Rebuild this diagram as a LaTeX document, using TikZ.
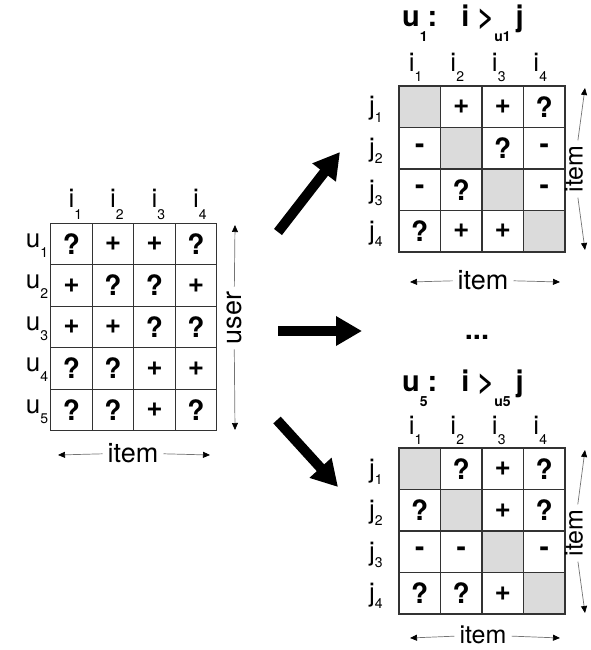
\documentclass[tikz,border=0pt]{standalone}
\usepackage{fontspec}
\setmainfont{TeX Gyre Heros}
\usetikzlibrary{arrows.meta}
\newcommand\lowsub[2][11pt]{\raisebox{-#1}{\fontsize{14}{14}\selectfont #2}}
\begin{document}
\begin{tikzpicture}[x=1pt,y=-1pt,
  cell/.style={draw=black!80, line width=1.1pt, minimum size=41.5pt, inner sep=0pt,
    font=\bfseries\fontsize{28}{28}\selectfont},
  lab/.style={inner sep=0pt, font=\fontsize{26}{26}\selectfont},
  dimtext/.style={inner sep=5pt, font=\fontsize{27}{27}\selectfont},
  vdimtext/.style={inner sep=5pt, font=\fontsize{25}{25}\selectfont},
  dimline/.style={draw=black!55, line width=0.7pt, -{Triangle[length=7pt,width=6pt,fill=black,color=black]}},
  titletext/.style={inner sep=0pt, font=\bfseries\fontsize{29}{29}\selectfont},
  bigarrow/.style={line width=10pt, -{Triangle[length=26pt,width=28pt]}}]
\useasboundingbox (0,0) rectangle (590,650);

% ---------- left matrix (users x items)
\foreach \rowlist [count=\r] in {{?,+,+,?},{+,?,?,+},{+,+,?,?},{?,?,+,+},{?,?,+,?}} {
  \foreach \v [count=\c] in \rowlist {
    \node[cell] (L-\r-\c) at ({50.7+41.5*(\c-0.5)},{223.3+41.5*(\r-0.5)}) {\v};
  }
  \node[lab, anchor=base] (L-u\r) at (37,{247+41.5*(\r-1)}) {u\lowsub[10pt]{\r}};
}
\foreach \c in {1,...,4} {
  \node[lab, anchor=base] (L-i\c) at ({75.5+41.5*(\c-1)},207) {i\lowsub[12pt]{\c}};
}
\coordinate (Lut) at (235,225);
\coordinate (Lub) at (235,430);
\node[dimtext, rotate=90] (Luser) at (234,318) {user};
\draw[dimline] (Luser) -- (Lut);
\draw[dimline] (Luser) -- (Lub);
\coordinate (Lil) at (58,455);
\coordinate (Lir) at (210,455);
\node[dimtext] (Litem) at (133,453) {item};
\draw[dimline] (Litem) -- (Lil);
\draw[dimline] (Litem) -- (Lir);

% ---------- top right matrix (u1)
\foreach \rowlist [count=\r] in {{{},+,+,?},{-,{},?,-},{-,?,{},-},{?,+,+,{}}} {
  \foreach \v [count=\c] in \rowlist {
    \ifnum\r=\c \def\cf{black!14}\else\def\cf{white}\fi
    \node[cell, fill=\cf] (A-\r-\c) at ({399+41.5*(\c-0.5)},{86+41.5*(\r-0.5)}) {\v};
  }
  \node[lab, anchor=base] (A-j\r) at (376,{115+41.5*(\r-1)}) {j\lowsub[7pt]{\r}};
}
\foreach \c in {1,...,4} {
  \node[lab, anchor=base] (A-i\c) at ({415.75+41.5*(\c-1)},72) {i\lowsub[10pt]{\c}};
}
\node[titletext, anchor=base west] (Atitle) at (402,27)
  {u\lowsub[15pt]{\bfseries 1}:\hspace{24pt}i\hspace{8pt}>\lowsub[15pt]{\bfseries u1}\hspace{5pt}j};
\coordinate (Art) at (585,88);
\coordinate (Arb) at (585,250);
\node[vdimtext, rotate=90] (Aitemv) at (574,169) {item};
\draw[dimline] (Aitemv) -- (Art);
\draw[dimline] (Aitemv) -- (Arb);
\coordinate (Ail) at (410,282);
\coordinate (Air) at (560,282);
\node[dimtext] (Aitem) at (483,280) {item};
\draw[dimline] (Aitem) -- (Ail);
\draw[dimline] (Aitem) -- (Air);

% ---------- dots
\node[titletext] (dots) at (477,337) {...};

% ---------- bottom right matrix (u5)
\foreach \rowlist [count=\r] in {{{},?,+,?},{?,{},+,?},{-,-,{},-},{?,?,+,{}}} {
  \foreach \v [count=\c] in \rowlist {
    \ifnum\r=\c \def\cf{black!14}\else\def\cf{white}\fi
    \node[cell, fill=\cf] (B-\r-\c) at ({399+41.5*(\c-0.5)},{448+41.5*(\r-0.5)}) {\v};
  }
  \node[lab, anchor=base] (B-j\r) at (376,{477+41.5*(\r-1)}) {j\lowsub[7pt]{\r}};
}
\foreach \c in {1,...,4} {
  \node[lab, anchor=base] (B-i\c) at ({415.75+41.5*(\c-1)},434) {i\lowsub[10pt]{\c}};
}
\node[titletext, anchor=base west] (Btitle) at (402,391)
  {u\lowsub[15pt]{\bfseries 5}:\hspace{24pt}i\hspace{8pt}>\lowsub[15pt]{\bfseries u5}\hspace{5pt}j};
\coordinate (Brt) at (585,450);
\coordinate (Brb) at (585,613);
\node[vdimtext, rotate=90] (Bitemv) at (574,533) {item};
\draw[dimline] (Bitemv) -- (Brt);
\draw[dimline] (Bitemv) -- (Brb);
\coordinate (Bil) at (410,638);
\coordinate (Bir) at (560,638);
\node[vdimtext] (Bitem) at (483,635) {item};
\draw[dimline] (Bitem) -- (Bil);
\draw[dimline] (Bitem) -- (Bir);

% ---------- big arrows
\coordinate (upS) at (278,232);
\coordinate (upE) at (340,152);
\coordinate (midS) at (278,331);
\coordinate (midE) at (362,331);
\coordinate (dnS) at (277,420);
\coordinate (dnE) at (338,487);
\draw[bigarrow] (upS) -- (upE);
\draw[bigarrow] (midS) -- (midE);
\draw[bigarrow] (dnS) -- (dnE);
\end{tikzpicture}
\end{document}
